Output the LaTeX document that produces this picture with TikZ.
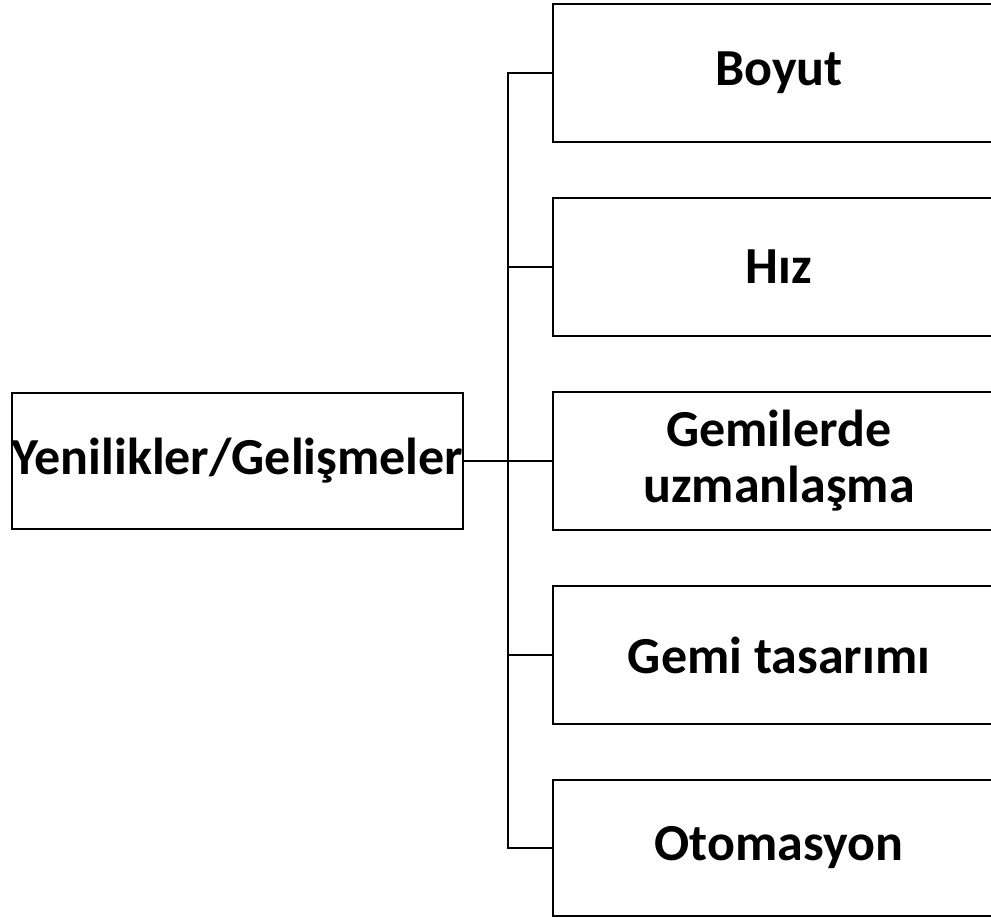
\documentclass[tikz,border=0pt]{standalone}
\usepackage{fontspec}
\setmainfont{Carlito}
\begin{document}
\begin{tikzpicture}[x=0.75pt,y=-0.75pt,
  box/.style={draw=black,line width=1.5pt,fill=white,align=center,inner sep=0pt,
    font=\bfseries\fontsize{39pt}{42pt}\selectfont},
  rbox/.style={box,minimum width=339pt,minimum height=103pt},
  conn/.style={draw=black,line width=1.5pt}]
\useasboundingbox (0,0) rectangle (991,917);
\node[box,minimum width=338pt,minimum height=102pt] (L) at (237.5,461) {Yenilikler/Gelişmeler};
\node[rbox] (b1) at (779,73) {Boyut};
\node[rbox] (b2) at (779,267) {Hız};
\node[rbox] (b3) at (779,461) {Gemilerde\\uzmanlaşma};
\node[rbox] (b4) at (779,655) {Gemi tasarımı};
\node[rbox,minimum height=102pt] (b5) at (779,848) {Otomasyon};
\coordinate (t1) at (508,73);
\coordinate (t5) at (508,848);
\draw[conn] (b1.west) -- (t1) -- (t5) -- (b5.west);
\draw[conn] (b2.west) -- (b2.west -| t1);
\draw[conn] (b4.west) -- (b4.west -| t1);
\draw[conn] (L.east) -- (b3.west);
\end{tikzpicture}
\end{document}
